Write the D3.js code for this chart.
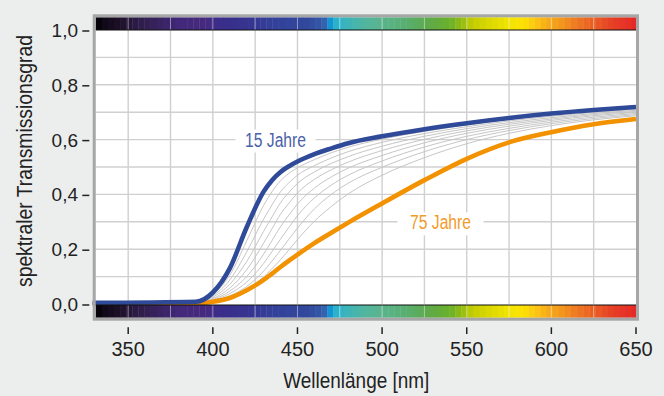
<!DOCTYPE html>
<html>
<head>
<meta charset="utf-8">
<script src="https://cdn.jsdelivr.net/npm/d3@7"></script>
<style>
    body{ margin:0; background:#eceeed; }
    svg{ display:block; }
    text{ font-family:"Liberation Sans",Arial,sans-serif; fill:#222; }
</style>
</head>
<body>
<svg id="chart" width="664" height="396"></svg>
<script>
// wavelengths (nm) at which the curves were read
var wavelengths = [329, 390, 400, 410, 420, 430, 435, 440, 445, 450, 460, 470, 480, 500, 525, 550, 575, 600, 625, 650];

var young = [0.004, 0.008, 0.042, 0.13, 0.28, 0.41, 0.452, 0.482, 0.503, 0.52, 0.547, 0.568, 0.587, 0.612, 0.638, 0.66, 0.679, 0.695, 0.708, 0.719];
var old   = [0.0, 0.002, 0.008, 0.022, 0.05, 0.088, 0.111, 0.135, 0.158, 0.18, 0.222, 0.26, 0.297, 0.367, 0.452, 0.53, 0.59, 0.627, 0.656, 0.675];

// intermediate ages (thin grey)
var between = [
    [0.003, 0.007, 0.035, 0.105, 0.23, 0.36, 0.41, 0.45, 0.477, 0.497, 0.527, 0.552, 0.572, 0.602, 0.63, 0.654, 0.674, 0.69, 0.704, 0.715],
    [0.003, 0.006, 0.03, 0.088, 0.19, 0.31, 0.362, 0.41, 0.443, 0.47, 0.505, 0.533, 0.556, 0.59, 0.622, 0.647, 0.668, 0.685, 0.699, 0.711],
    [0.002, 0.005, 0.025, 0.072, 0.155, 0.265, 0.318, 0.37, 0.408, 0.44, 0.482, 0.513, 0.538, 0.576, 0.612, 0.64, 0.662, 0.68, 0.695, 0.707],
    [0.002, 0.004, 0.02, 0.058, 0.125, 0.222, 0.275, 0.328, 0.368, 0.405, 0.455, 0.49, 0.518, 0.56, 0.601, 0.632, 0.656, 0.675, 0.691, 0.703],
    [0.001, 0.003, 0.016, 0.047, 0.1, 0.182, 0.232, 0.282, 0.325, 0.365, 0.423, 0.464, 0.496, 0.542, 0.588, 0.623, 0.649, 0.67, 0.687, 0.699],
    [0.001, 0.003, 0.013, 0.038, 0.08, 0.148, 0.192, 0.237, 0.28, 0.322, 0.387, 0.434, 0.47, 0.522, 0.573, 0.612, 0.641, 0.664, 0.682, 0.695],
    [0.001, 0.002, 0.01, 0.03, 0.064, 0.12, 0.157, 0.196, 0.237, 0.277, 0.347, 0.4, 0.441, 0.499, 0.556, 0.6, 0.633, 0.658, 0.677, 0.691],
    [0.001, 0.002, 0.008, 0.024, 0.052, 0.098, 0.129, 0.162, 0.198, 0.235, 0.302, 0.356, 0.402, 0.47, 0.534, 0.585, 0.623, 0.651, 0.672, 0.687]
];

var xTicks = [350, 400, 450, 500, 550, 600, 650];
var yTicks = [0, 0.2, 0.4, 0.6, 0.8, 1.0];

// colour stops of the spectrum strip
var specNm  = [331, 335, 345, 355, 365, 380, 395, 405, 420, 435, 455, 465, 468, 470, 473, 480, 490, 500, 515, 528, 540, 548, 553, 563, 575, 583, 590, 598, 605, 615, 625, 635, 650];
var specCol = ["#000000","#0e0818","#1e1028","#2c1c46","#36225a","#42287a","#46297f","#3a2e8a","#36348f","#33409a","#31489c","#3558a8","#2c7cc0","#0aa0da","#2ab2cc","#3eb4b8","#52b69e","#5ab48c","#58ae6e","#5eaa48","#6ab02a","#98be12","#c2cc00","#dad800","#f2e400","#fde200","#fcc812","#f7ac1a","#f49a1e","#ee7822","#ea5e22","#e64226","#e42828"];

var svg = d3.select("#chart");

var pLeft = 95.7, pRight = 636, pTop = 17.3, pBottom = 317.7;

var x = d3.scaleLinear()
    .domain([330.8, 650])
    .range([pLeft, pRight]);

var y = d3.scaleLinear()
    .domain([0, 1])
    .range([304, 30]);

var specColor = d3.scaleLinear()
    .domain(specNm)
    .range(specCol)
    .clamp(true);

// plot background
svg.append("rect")
    .attr("x", pLeft).attr("y", pTop)
    .attr("width", pRight - pLeft).attr("height", pBottom - pTop)
    .attr("fill", "#fff");

// grid
var grid = svg.append("g")
    .attr("stroke", "#d0d0d0")
    .attr("stroke-width", 1.4);

grid.selectAll(".h")
    .data(d3.range(1, 10).map(function(d){ return d / 10; }))
    .enter().append("line")
        .attr("x1", pLeft).attr("x2", pRight)
        .attr("y1", function(d){ return y(d); })
        .attr("y2", function(d){ return y(d); });

var vGrid = d3.range(350, 650, 25);
grid.selectAll(".v")
    .data(vGrid)
    .enter().append("line")
        .attr("x1", function(d){ return x(d); })
        .attr("x2", function(d){ return x(d); })
        .attr("y1", y(1)).attr("y2", y(0));

// curve labels with white boxes
function curveLabel(txt, cx, base, col, w, tw){
    svg.append("rect")
        .attr("x", cx - w / 2).attr("y", base - 17)
        .attr("width", w).attr("height", 23)
        .attr("fill", "#fff");
    svg.append("text")
        .attr("x", cx - tw / 2).attr("y", base)
        .attr("textLength", tw)
        .attr("lengthAdjust", "spacingAndGlyphs")
        .style("font-size", "19.5px")
        .style("fill", col)
        .text(txt);
}

curveLabel("15 Jahre", 275.5, 146.5, "#4a62a8", 80, 61);
curveLabel("75 Jahre", 440.5, 229.3, "#f39a2a", 86, 61);

var line = d3.line()
    .x(function(d, i){ return x(wavelengths[i]); })
    .y(function(d){ return y(d); })
    .curve(d3.curveMonotoneX);

svg.append("g")
    .selectAll("path")
    .data(between)
    .enter().append("path")
        .attr("d", line)
        .attr("fill", "none")
        .attr("stroke", "#c6c6c6")
        .attr("stroke-width", 1);

svg.append("path")
    .attr("d", line(old))
    .attr("fill", "none")
    .attr("stroke", "#f39200")
    .attr("stroke-width", 4.6);

svg.append("path")
    .attr("d", line(young))
    .attr("fill", "none")
    .attr("stroke", "#2f4a98")
    .attr("stroke-width", 4.6);

// spectrum strips
var blocks = d3.range(330.8, 650, 3.6);
function strip(y0, h, edge){
    var g = svg.append("g");
    g.selectAll("rect")
        .data(blocks)
        .enter().append("rect")
            .attr("x", function(d){ return x(d); })
            .attr("y", y0)
            .attr("width", function(d){ return x(Math.min(d + 3.6, 650)) - x(d) + 0.4; })
            .attr("height", h)
            .attr("fill", function(d){ return specColor(d + 1.8); });
    g.selectAll("line.w")
        .data(vGrid)
        .enter().append("line")
            .attr("x1", function(d){ return x(d); })
            .attr("x2", function(d){ return x(d); })
            .attr("y1", y0).attr("y2", y0 + h)
            .attr("stroke", "rgba(255,255,255,0.45)")
            .attr("stroke-width", 1);
    g.append("line")
        .attr("x1", pLeft).attr("x2", pRight)
        .attr("y1", edge).attr("y2", edge)
        .attr("stroke", "#111")
        .attr("stroke-width", 1.2);
}
strip(pTop, 30 - pTop, 30);
strip(305, pBottom - 305, 305);

// frame
svg.append("rect")
    .attr("x", pLeft - 1.5).attr("y", pTop - 1.5)
    .attr("width", pRight - pLeft + 3).attr("height", pBottom - pTop + 3)
    .attr("fill", "none")
    .attr("stroke", "#a6a6a6")
    .attr("stroke-width", 3);

// axes
var xAxis = svg.append("g");
xAxis.selectAll("line")
    .data(xTicks)
    .enter().append("line")
        .attr("x1", function(d){ return x(d); })
        .attr("x2", function(d){ return x(d); })
        .attr("y1", 327.3).attr("y2", 334)
        .attr("stroke", "#222")
        .attr("stroke-width", 1.5);
xAxis.selectAll("text")
    .data(xTicks)
    .enter().append("text")
        .attr("x", function(d){ return x(d); })
        .attr("y", 356)
        .attr("text-anchor", "middle")
        .style("font-size", "20px")
        .text(function(d){ return d; });

var yAxis = svg.append("g");
yAxis.selectAll("line")
    .data(yTicks)
    .enter().append("line")
        .attr("x1", 82.3).attr("x2", 89.3)
        .attr("y1", function(d){ return y(d) + 1; })
        .attr("y2", function(d){ return y(d) + 1; })
        .attr("stroke", "#222")
        .attr("stroke-width", 1.5);
yAxis.selectAll("text")
    .data(yTicks)
    .enter().append("text")
        .attr("x", 78)
        .attr("y", function(d){ return y(d) + 7; })
        .attr("text-anchor", "end")
        .style("font-size", "19px")
        .text(function(d){ return d3.format(".1f")(d).replace(".", ","); });

svg.append("text")
    .attr("x", 283.3)
    .attr("y", 388)
    .attr("textLength", 146)
    .attr("lengthAdjust", "spacingAndGlyphs")
    .style("font-size", "22px")
    .text("Wellenlänge [nm]");

svg.append("text")
    .attr("transform", "translate(32,287) rotate(-90)")
    .attr("textLength", 252)
    .attr("lengthAdjust", "spacingAndGlyphs")
    .style("font-size", "22px")
    .text("spektraler Transmissionsgrad");
</script>
</body>
</html>
